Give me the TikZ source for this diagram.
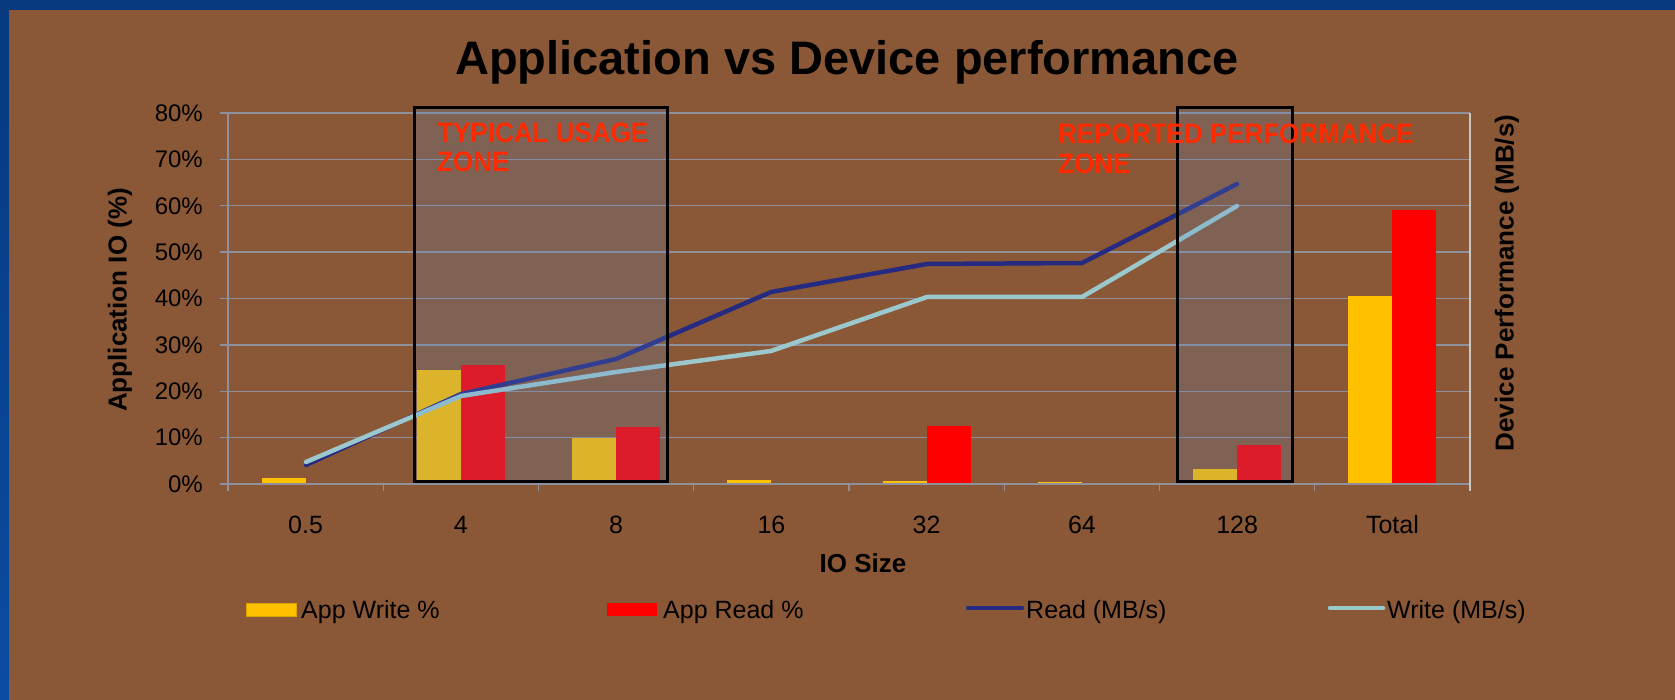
\documentclass[tikz,border=0pt]{standalone}
\usepackage{fontspec}
\usepackage{graphicx}
\setmainfont{Liberation Sans}
\definecolor{framec}{RGB}{6,57,125}
\definecolor{framec2}{RGB}{12,76,163}
\definecolor{bgc}{RGB}{138,88,54}
\definecolor{gridc}{RGB}{142,144,156}
\definecolor{raxc}{RGB}{200,200,190}
\definecolor{appw}{RGB}{255,192,0}
\definecolor{appr}{RGB}{255,0,0}
\definecolor{readc}{RGB}{38,42,128}
\definecolor{writec}{RGB}{155,200,205}
\definecolor{overlayc}{RGB}{91,136,205}
\definecolor{zonered}{RGB}{255,42,0}
\newcommand{\zt}[1]{\scalebox{1}[1.08]{#1}}
\begin{document}
\begin{tikzpicture}[x=1pt,y=-1pt,
  grid/.style={draw=gridc,line width=1.4},
  axisln/.style={draw=gridc,line width=1.4},
  wbar/.style={fill=appw},
  rbar/.style={fill=appr},
  readln/.style={draw=readc,line width=4.5,line join=round,line cap=round},
  writeln/.style={draw=writec,line width=4.5,line join=round,line cap=round},
  ylab/.style={font=\fontsize{24}{28}\selectfont,anchor=east,inner sep=0},
  xlab/.style={font=\fontsize{25}{30}\selectfont,anchor=base,inner sep=0},
  legtxt/.style={font=\fontsize{25}{30}\selectfont,anchor=base west,inner sep=0},
  axtitle/.style={font=\fontsize{26}{30}\selectfont\bfseries,inner sep=0},
  zonebox/.style={fill=overlayc,fill opacity=0.21,draw=black,draw opacity=1,line width=3},
  zonetxt/.style={font=\fontsize{26}{30}\selectfont\bfseries,text=zonered,anchor=base west,inner sep=0}
]
\useasboundingbox (0,0) rectangle (1675,700);
% frame and background
\fill[framec] (0,0) rectangle (1675,700);
\shade[top color=framec,bottom color=framec2] (0,0) rectangle (9,700);
\fill[bgc] (9,10) rectangle (1675,700);

% title
\node[font=\fontsize{47}{54}\selectfont\bfseries,anchor=base,inner sep=0] (title) at (847,75) {Application vs Device performance};

% gridlines
\foreach \yy in {113,159.4,205.8,252.1,298.5,344.9,391.3,437.6}
  \draw[grid] (220,\yy) -- (1470,\yy);

% bars
\fill[wbar] (261.6,484) rectangle (305.6,478);
\fill[wbar] (416.9,484) rectangle (460.9,370);
\fill[rbar] (460.9,484) rectangle (504.9,365);
\fill[wbar] (572.1,484) rectangle (616.1,438);
\fill[rbar] (616.1,484) rectangle (660.1,427);
\fill[wbar] (727.4,484) rectangle (771.4,480);
\fill[wbar] (882.6,484) rectangle (926.6,481);
\fill[rbar] (926.6,484) rectangle (970.6,426);
\fill[wbar] (1037.9,484) rectangle (1081.9,482);
\fill[wbar] (1193.1,484) rectangle (1237.1,469);
\fill[rbar] (1237.1,484) rectangle (1281.1,445);
\fill[wbar] (1348.4,484) rectangle (1392.4,296);
\fill[rbar] (1392.4,484) rectangle (1436.4,210);

% axes
\draw[axisln] (228,113) -- (228,491);
\draw[axisln] (220,484) -- (1470,484);
\foreach \xx in {383.25,538.5,693.75,849,1004.25,1159.5,1314.75}
  \draw[axisln] (\xx,484) -- (\xx,491);
\draw[draw=raxc,line width=1.6] (1470,113) -- (1470,491);

% lines
\coordinate (r0) at (306,465);
\coordinate (r1) at (461,394);
\coordinate (r2) at (616,359);
\coordinate (r3) at (771,292);
\coordinate (r4) at (927,264);
\coordinate (r5) at (1082,263);
\coordinate (r6) at (1237,184);
\coordinate (w0) at (306,462);
\coordinate (w1) at (461,396);
\coordinate (w2) at (616,372);
\coordinate (w3) at (771,351);
\coordinate (w4) at (927,297);
\coordinate (w5) at (1082,297);
\coordinate (w6) at (1237,206);
\draw[readln] (r0) -- (r1) -- (r2) -- (r3) -- (r4) -- (r5) -- (r6);
\draw[writeln] (w0) -- (w1) -- (w2) -- (w3) -- (w4) -- (w5) -- (w6);

% zone boxes
\draw[zonebox] (414,108) rectangle (667,481);
\draw[zonebox] (1177,108) rectangle (1292,481);

% zone texts
\node[zonetxt] (typ1) at (437,143) {\zt{TYPICAL USAGE}};
\node[zonetxt] (typ2) at (437,172) {\zt{ZONE}};
\node[zonetxt] (rep1) at (1058,144) {\zt{REPORTED PERFORMANCE}};
\node[zonetxt] (rep2) at (1058,174) {\zt{ZONE}};

% y tick labels
\node[ylab] (y80) at (203,113) {80\%};
\node[ylab] (y70) at (203,159.4) {70\%};
\node[ylab] (y60) at (203,205.8) {60\%};
\node[ylab] (y50) at (203,252.1) {50\%};
\node[ylab] (y40) at (203,298.5) {40\%};
\node[ylab] (y30) at (203,344.9) {30\%};
\node[ylab] (y20) at (203,391.3) {20\%};
\node[ylab] (y10) at (203,437.6) {10\%};
\node[ylab] (y0) at (203,484) {0\%};

% x tick labels
\node[xlab] (x1) at (305.6,533) {0.5};
\node[xlab] (x2) at (460.9,533) {4};
\node[xlab] (x3) at (616.1,533) {8};
\node[xlab] (x4) at (771.4,533) {16};
\node[xlab] (x5) at (926.6,533) {32};
\node[xlab] (x6) at (1081.9,533) {64};
\node[xlab] (x7) at (1237.1,533) {128};
\node[xlab] (x8) at (1392.4,533) {Total};

% axis titles
\node[axtitle,anchor=base] (xtitle) at (863,572) {IO Size};
\node[axtitle,rotate=90] (ytitle) at (120,300) {Application IO (\%)};
\node[axtitle,rotate=90] (rtitle) at (1507,283) {Device Performance (MB/s)};

% legend
\filldraw[fill=appw,draw=appw!85!black,line width=0.6] (246,603) rectangle (296,616);
\node[legtxt] (lw) at (301,618) {App Write \%};
\fill[appr] (607,603) rectangle (657,616);
\node[legtxt] (lr) at (663,618) {App Read \%};
\coordinate (lrd1) at (968,608);
\coordinate (lrd2) at (1022,608);
\draw[readln] (lrd1) -- (lrd2);
\node[legtxt] (lrdt) at (1026,618) {Read (MB/s)};
\coordinate (lwr1) at (1330,608);
\coordinate (lwr2) at (1383,608);
\draw[writeln] (lwr1) -- (lwr2);
\node[legtxt] (lwrt) at (1387,618) {Write (MB/s)};
\end{tikzpicture}
\end{document}
